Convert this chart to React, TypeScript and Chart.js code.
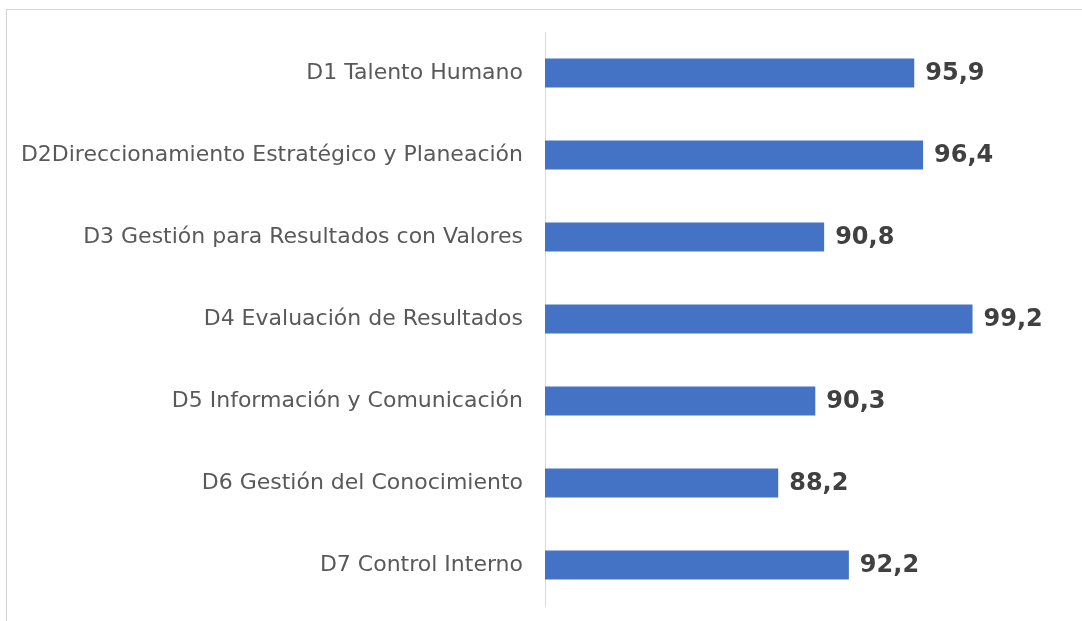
import React, { useEffect, useRef } from "react";
import { Chart, registerables } from "chart.js";

Chart.register(...registerables);

const categories = [
  "D1 Talento Humano",
  "D2Direccionamiento Estratégico y Planeación",
  "D3 Gestión para Resultados con Valores",
  "D4 Evaluación de Resultados",
  "D5 Información y Comunicación",
  "D6 Gestión del Conocimiento",
  "D7 Control Interno",
];
const values = [95.9, 96.4, 90.8, 99.2, 90.3, 88.2, 92.2];
const axisMin = 75;
const axisMax = 105;

const valueLabelPlugin = {
  id: "valueLabels",
  afterDatasetsDraw(chart: any) {
    const { ctx } = chart;
    const meta = chart.getDatasetMeta(0);
    ctx.save();
    ctx.font = "bold 24px 'DejaVu Sans'";
    ctx.fillStyle = "#404040";
    ctx.textAlign = "left";
    ctx.textBaseline = "middle";
    meta.data.forEach((bar: any, i: number) => {
      const v = values[i];
      const txt = v.toFixed(1).replace(".", ",");
      ctx.fillText(txt, bar.x + 11, bar.y + 1);
    });
    ctx.restore();
  },
};

export default function App() {
  const ref = useRef<HTMLCanvasElement | null>(null);

  useEffect(() => {
    if (!ref.current) return;
    const chart = new Chart(ref.current, {
      type: "bar",
      data: {
        labels: categories,
        datasets: [
          {
            data: values,
            backgroundColor: "#4472C4",
            borderWidth: 0,
            categoryPercentage: 1,
            barPercentage: 0.354,
          },
        ],
      },
      options: {
        indexAxis: "y",
        responsive: false,
        animation: false,
        layout: { padding: { left: 0, right: 7, top: 32, bottom: 15 } },
        plugins: {
          legend: { display: false },
          tooltip: { enabled: false },
        },
        scales: {
          x: {
            display: false,
            min: axisMin,
            max: axisMax,
          },
          y: {
            afterFit(scale: any) {
              scale.width = 545;
              scale.paddingTop = 0;
              scale.paddingBottom = 0;
            },
            grid: { display: true, color: "rgba(0,0,0,0)", drawTicks: false },
            border: { display: true, color: "#d9d9d9", width: 1 },
            ticks: {
              padding: 22,
              color: "#595959",
              font: { family: "'DejaVu Sans'", size: 22 },
            },
          },
        },
      },
      plugins: [valueLabelPlugin],
    });
    return () => chart.destroy();
  }, []);

  return (
    <div
      style={{
        position: "fixed",
        left: 0,
        top: 0,
        width: 1082,
        height: 621,
        overflow: "hidden",
        background: "#fff",
      }}
    >
      <div
        style={{
          position: "absolute",
          left: 6,
          top: 9,
          width: 1200,
          height: 800,
          borderTop: "1px solid #d4d4d4",
          borderLeft: "1px solid #d4d4d4",
        }}
      />
      <canvas
        ref={ref}
        width={1082}
        height={621}
        style={{ position: "absolute", left: 0, top: 0 }}
      />
    </div>
  );
}
